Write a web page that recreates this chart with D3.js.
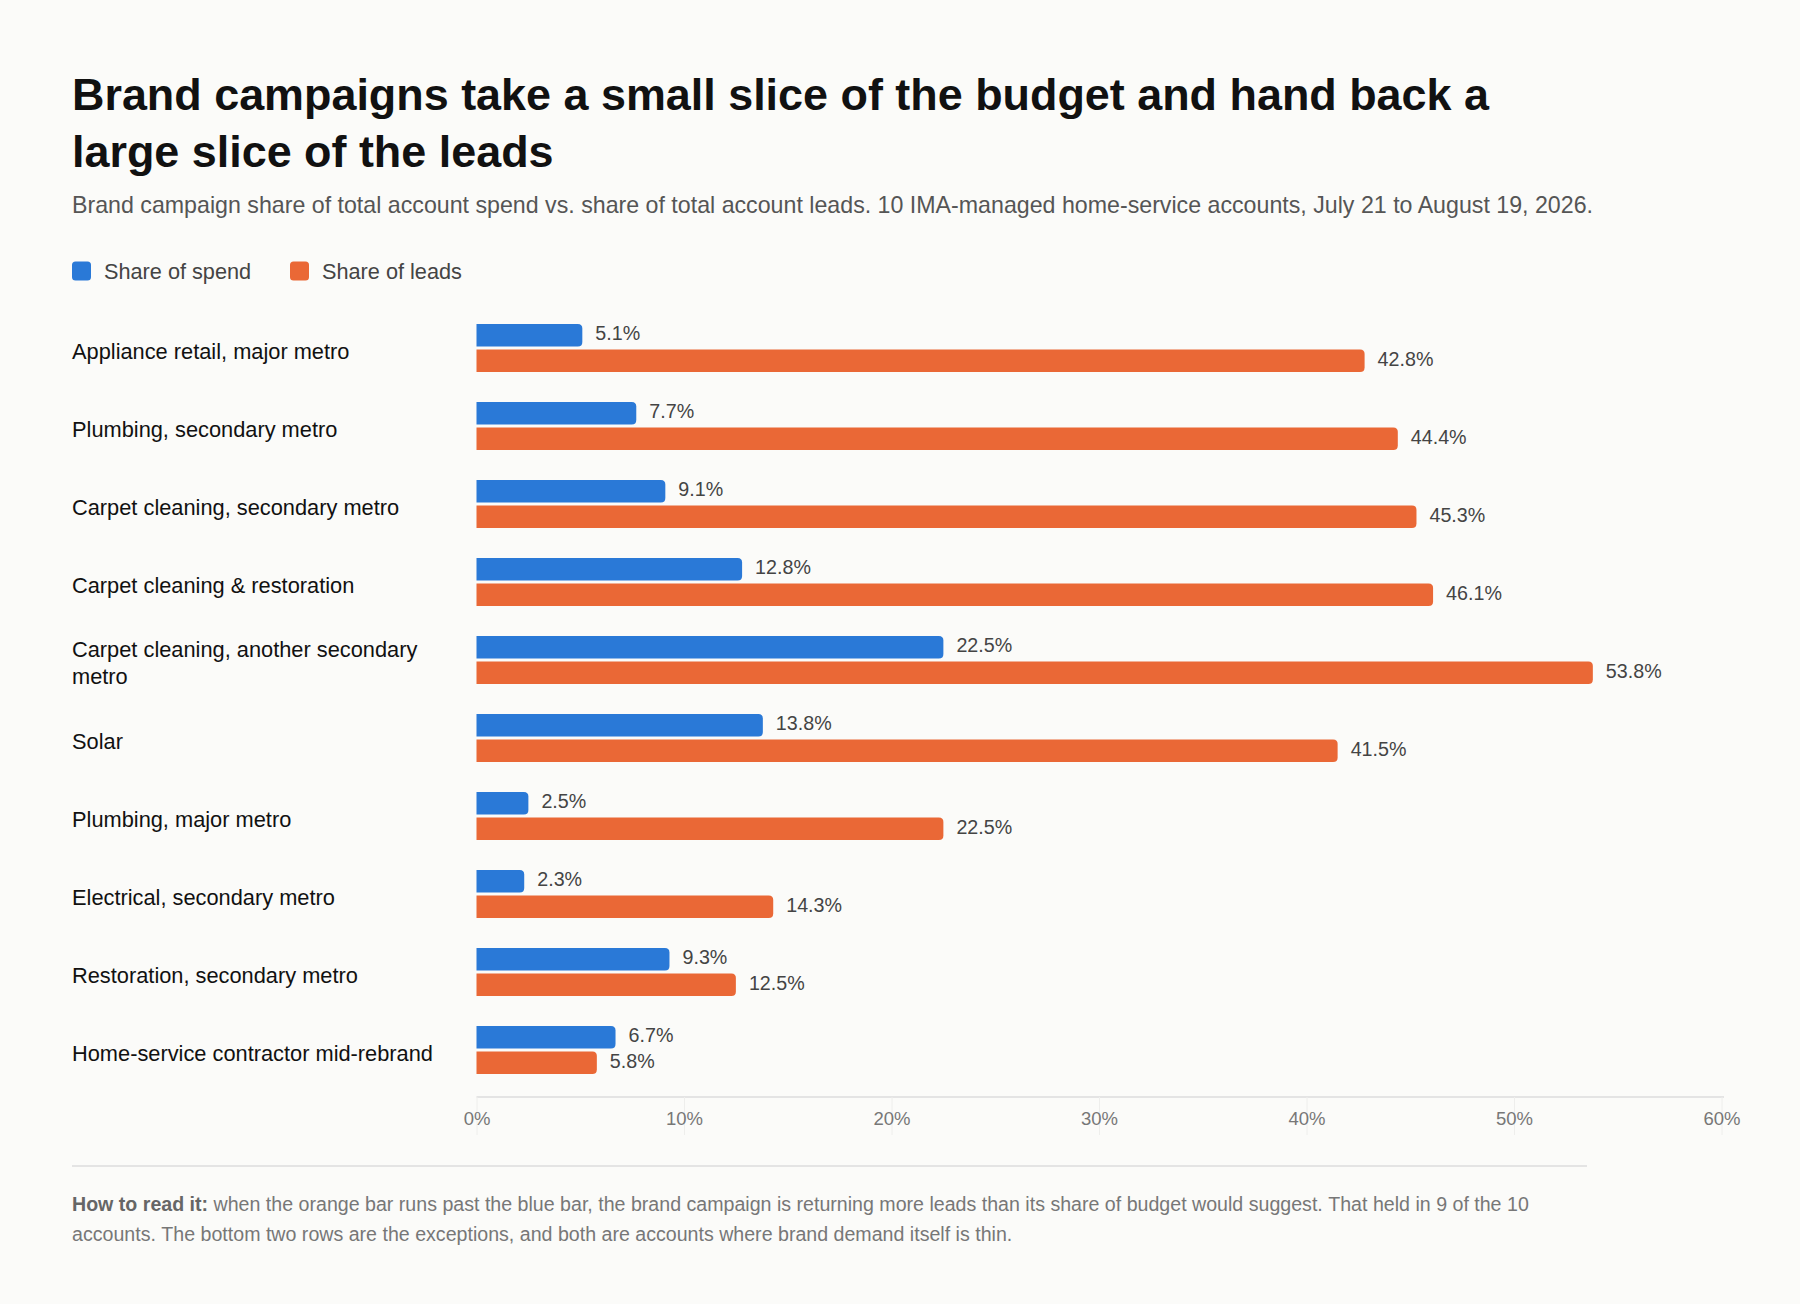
<!DOCTYPE html>
<html>
<head>
<meta charset="utf-8">
<script src="https://cdn.jsdelivr.net/npm/d3@7"></script>
<style>
  html, body { margin: 0; padding: 0; background: #fbfbf9; }
  svg { display: block; font-family: "Liberation Sans", Arial, sans-serif; }
</style>
</head>
<body>
<div class="chart"></div>
<script>
// Data
const accounts = [
  "Appliance retail, major metro",
  "Plumbing, secondary metro",
  "Carpet cleaning, secondary metro",
  "Carpet cleaning & restoration",
  "Carpet cleaning, another secondary metro",
  "Solar",
  "Plumbing, major metro",
  "Electrical, secondary metro",
  "Restoration, secondary metro",
  "Home-service contractor mid-rebrand"
];
const shareOfSpend = [5.1, 7.7, 9.1, 12.8, 22.5, 13.8, 2.5, 2.3, 9.3, 6.7];
const shareOfLeads = [42.8, 44.4, 45.3, 46.1, 53.8, 41.5, 22.5, 14.3, 12.5, 5.8];
const seriesNames = ["Share of spend", "Share of leads"];
const seriesKeys = ["spend", "leads"];
const xTicks = [0, 10, 20, 30, 40, 50, 60];

const titleText = "Brand campaigns take a small slice of the budget and hand back a large slice of the leads";
const subtitleText = "Brand campaign share of total account spend vs. share of total account leads. 10 IMA-managed home-service accounts, July 21 to August 19, 2026.";
const noteBold = "How to read it:";
const noteText = "when the orange bar runs past the blue bar, the brand campaign is returning more leads than its share of budget would suggest. That held in 9 of the 10 accounts. The bottom two rows are the exceptions, and both are accounts where brand demand itself is thin.";

const colors = { spend: "#2a79d7", leads: "#ea6836" };

const width = 1800, height = 1304;
const left = 72, textWidth = 1515;

const svg = d3.select(".chart").append("svg")
  .attr("width", width)
  .attr("height", height);

svg.append("rect")
  .attr("width", width)
  .attr("height", height)
  .attr("fill", "#fbfbf9");

//Wrap plain text into lines of at most maxWidth
function wrapLines(textSel, words, maxWidth) {
  const lines = [];
  let line = [];
  const probe = textSel.append("tspan");
  words.forEach(w => {
    line.push(w);
    probe.text(line.join(" "));
    if (probe.node().getComputedTextLength() > maxWidth && line.length > 1) {
      line.pop();
      lines.push(line.join(" "));
      line = [w];
    }
  });
  lines.push(line.join(" "));
  probe.remove();
  return lines;
}

//Title
const title = svg.append("text")
  .attr("x", left)
  .attr("y", 110)
  .attr("fill", "#111")
  .attr("font-size", 44.9)
  .attr("font-weight", 700);
wrapLines(title, titleText.split(" "), textWidth).forEach((l, i) => {
  title.append("tspan").attr("x", left).attr("y", 110 + i * 57).text(l);
});

//Subtitle
svg.append("text")
  .attr("x", left)
  .attr("y", 213)
  .attr("fill", "#555")
  .attr("font-size", 23.2)
  .text(subtitleText);

//Legend
const legend = svg.append("g").attr("transform", "translate(0,271)");
const legendX = [72, 290];
seriesKeys.forEach((k, i) => {
  legend.append("rect")
    .attr("x", legendX[i])
    .attr("y", -9.5)
    .attr("width", 19)
    .attr("height", 19)
    .attr("rx", 3.5)
    .attr("fill", colors[k]);
  legend.append("text")
    .attr("x", legendX[i] + 32)
    .attr("y", 0)
    .attr("dy", "0.35em")
    .attr("fill", "#444")
    .attr("font-size", 21.7)
    .text(seriesNames[i]);
});

//Scales
const x = d3.scaleLinear().domain([0, 60]).range([476.5, 1721.5]);
const y = d3.scaleBand()
  .domain(accounts)
  .range([309, 1089])
  .paddingInner(0.385)
  .paddingOuter(0.1925);
const ySub = d3.scaleBand()
  .domain(seriesKeys)
  .range([0, y.bandwidth()])
  .paddingInner(0.12);

const rows = accounts.map((a, i) => ({
  account: a,
  values: [
    { key: "spend", value: shareOfSpend[i] },
    { key: "leads", value: shareOfLeads[i] }
  ]
}));

//Bar with square left end and rounded right end
function barPath(x0, x1, y0, h, r) {
  r = Math.min(r, (x1 - x0) / 2, h / 2);
  return `M${x0},${y0}H${x1 - r}Q${x1},${y0} ${x1},${y0 + r}V${y0 + h - r}Q${x1},${y0 + h} ${x1 - r},${y0 + h}H${x0}Z`;
}

const row = svg.append("g").selectAll("g.row")
  .data(rows)
  .join("g")
  .attr("class", "row")
  .attr("transform", d => `translate(0,${y(d.account)})`);

row.selectAll("path")
  .data(d => d.values)
  .join("path")
  .attr("d", d => barPath(x(0), x(d.value), ySub(d.key), ySub.bandwidth(), 4.5))
  .attr("fill", d => colors[d.key]);

row.selectAll("text.value")
  .data(d => d.values)
  .join("text")
  .attr("class", "value")
  .attr("x", d => x(d.value) + 13)
  .attr("y", d => ySub(d.key) + ySub.bandwidth() / 2 - 2)
  .attr("dy", "0.35em")
  .attr("fill", "#444")
  .attr("font-size", 19.7)
  .text(d => d.value.toFixed(1) + "%");

//Account labels, wrapped when too long
row.each(function (d) {
  const t = d3.select(this).append("text")
    .attr("fill", "#111")
    .attr("font-size", 21.8);
  const lines = wrapLines(t, d.account.split(" "), 370);
  const mid = y.bandwidth() / 2 + 3;
  lines.forEach((l, i) => {
    t.append("tspan")
      .attr("x", left)
      .attr("y", mid + (i - (lines.length - 1) / 2) * 27)
      .attr("dy", "0.35em")
      .text(l);
  });
});

//X axis
const axis = svg.append("g")
  .attr("transform", "translate(0,1097)")
  .call(d3.axisBottom(x)
    .tickValues(xTicks)
    .tickFormat(d => d + "%")
    .tickSize(38)
    .tickSizeOuter(0));
axis.select(".domain")
  .attr("stroke", "#dddddd")
  .attr("stroke-width", 1.5)
  .attr("d", `M${x(0)},0H${x(60) + 2.5}`);
axis.selectAll(".tick line").attr("stroke", "#eeeeec");
axis.selectAll(".tick text")
  .attr("y", 22)
  .attr("dy", "0.35em")
  .attr("fill", "#777")
  .attr("font-size", 18.5)
  .attr("font-family", "Liberation Sans, Arial, sans-serif");

//Separator
svg.append("line")
  .attr("x1", left)
  .attr("x2", left + textWidth)
  .attr("y1", 1166)
  .attr("y2", 1166)
  .attr("stroke", "#dddddd")
  .attr("stroke-width", 1.5);

//Footnote, bold lead-in then wrapped text
const note = svg.append("text")
  .attr("font-size", 19.6)
  .attr("fill", "#777");
const probe = note.append("tspan");
const noteWords = noteBold.split(" ").map(w => ({ w, bold: true }))
  .concat(noteText.split(" ").map(w => ({ w, bold: false })));
function measure(w, bold) {
  probe.attr("font-weight", bold ? 700 : 400).text(w);
  return probe.node().getComputedTextLength();
}
const space = measure("a b", false) - measure("ab", false);
let cx = 0, line = 0;
const placed = [];
noteWords.forEach(d => {
  const wlen = measure(d.w, d.bold);
  if (cx > 0 && cx + wlen > textWidth) { line++; cx = 0; }
  placed.push({ ...d, x: cx, line });
  cx += wlen + space;
});
probe.remove();
note.selectAll("tspan.word")
  .data(placed)
  .join("tspan")
  .attr("class", "word")
  .attr("x", d => left + d.x)
  .attr("y", d => 1211 + d.line * 30)
  .attr("font-weight", d => d.bold ? 700 : 400)
  .attr("fill", d => d.bold ? "#666" : "#777")
  .text(d => d.w);
</script>
</body>
</html>
